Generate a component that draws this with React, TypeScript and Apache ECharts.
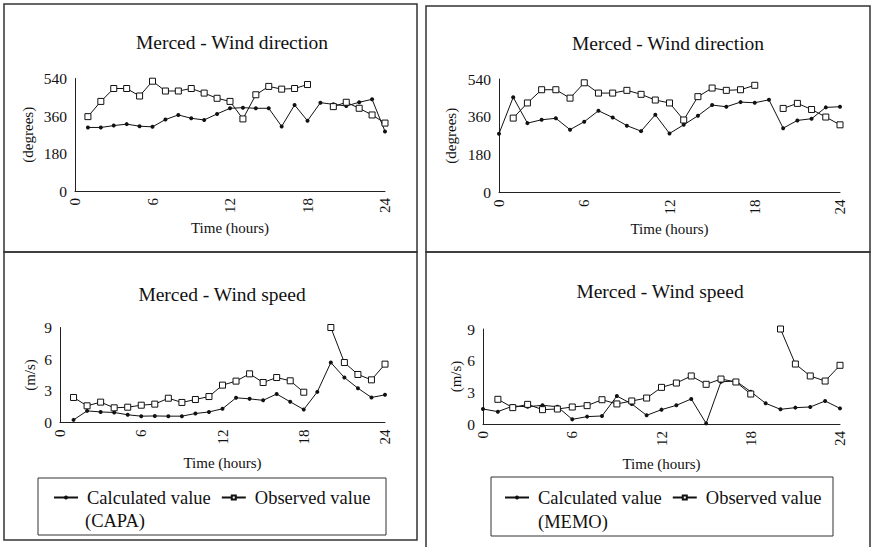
import React, { useEffect, useRef } from 'react';
import * as echarts from 'echarts';

const hours = [0, 1, 2, 3, 4, 5, 6, 7, 8, 9, 10, 11, 12, 13, 14, 15, 16, 17, 18, 19, 20, 21, 22, 23, 24];

// CAPA (left) - wind direction, degrees
const capaDirCalc = [null, 305, 305, 314, 321, 311, 308, 343, 365, 349, 341, 370, 397, 400, 397, 397, 310, 413, 337, 424, 416, 408, 426, 440, 286];
const capaDirObs = [null, 357, 430, 492, 492, 456, 527, 480, 480, 492, 470, 445, 430, 346, 462, 502, 489, 492, 511, null, 405, 426, 397, 365, 326];
// MEMO (right) - wind direction, degrees
const memoDirCalc = [280, 453, 330, 346, 353, 299, 337, 389, 357, 318, 292, 370, 281, 322, 365, 416, 408, 430, 427, 441, 306, 343, 351, 405, 408];
const memoDirObs = [null, 354, 426, 489, 489, 449, 522, 473, 473, 486, 467, 440, 426, 345, 456, 497, 486, 489, 510, null, 400, 424, 395, 359, 322];
// CAPA (left) - wind speed, m/s
const capaSpdCalc = [null, 0.25, 1.1, 1.0, 0.95, 0.73, 0.6, 0.62, 0.6, 0.6, 0.85, 1.0, 1.3, 2.34, 2.24, 2.1, 2.7, 1.96, 1.23, 2.9, 5.68, 4.26, 3.25, 2.37, 2.62];
const capaSpdObs = [null, 2.37, 1.58, 1.93, 1.39, 1.45, 1.64, 1.74, 2.3, 1.9, 2.18, 2.46, 3.54, 3.92, 4.61, 3.79, 4.26, 3.95, 2.87, null, 9.0, 5.68, 4.55, 4.04, 5.53];
// MEMO (right) - wind speed, m/s
const memoSpdCalc = [1.42, 1.17, 1.7, 1.64, 1.77, 1.64, 0.44, 0.7, 0.76, 2.65, 1.9, 0.82, 1.36, 1.77, 2.37, 0.06, 4.0, 4.07, 3.06, 1.96, 1.39, 1.55, 1.61, 2.18, 1.48];
const memoSpdObs = [null, 2.34, 1.55, 1.86, 1.36, 1.42, 1.61, 1.74, 2.3, 1.9, 2.18, 2.46, 3.47, 3.88, 4.55, 3.76, 4.26, 3.98, 2.84, null, 9.0, 5.68, 4.55, 4.07, 5.56];

const titleDir = 'Merced - Wind direction';
const titleSpd = 'Merced - Wind speed';
const xName = 'Time (hours)';
const dirName = '(degrees)';
const spdName = '(m/s)';
const calcName = 'Calculated value';
const obsName = 'Observed value';
const leftModel = '(CAPA)';
const rightModel = '(MEMO)';

const FONT = 'Liberation Serif';
const INK = '#111';

function pairs(arr: (number | null)[]) {
  return hours.map((h, i) => [h, arr[i] == null ? '-' : arr[i]]);
}

function xAxisFor(gridIndex: number, nameGap: number) {
  return {
    type: 'value',
    gridIndex,
    min: 0,
    max: 24,
    interval: 6,
    name: xName,
    nameLocation: 'middle',
    nameGap,
    nameTextStyle: { fontFamily: FONT, fontSize: 15, color: INK },
    axisLine: { lineStyle: { color: '#222', width: 1 } },
    axisTick: { show: false },
    axisLabel: { rotate: 90, fontFamily: FONT, fontSize: 15, color: INK, margin: 7 },
    splitLine: { show: false },
  };
}

function yAxisFor(gridIndex: number, max: number, interval: number, name: string, nameGap: number) {
  return {
    type: 'value',
    gridIndex,
    min: 0,
    max,
    interval,
    name,
    nameLocation: 'middle',
    nameGap,
    nameRotate: 90,
    nameTextStyle: { fontFamily: FONT, fontSize: 15, color: INK },
    axisLine: { show: true, lineStyle: { color: '#222', width: 1 } },
    axisTick: { show: false },
    axisLabel: { fontFamily: FONT, fontSize: 15.5, color: INK, margin: 8 },
    splitLine: { show: false },
  };
}

function calcSeries(idx: number, data: (number | null)[]) {
  return {
    type: 'line',
    name: calcName,
    xAxisIndex: idx,
    yAxisIndex: idx,
    data: pairs(data),
    symbol: 'circle',
    symbolSize: 4,
    showSymbol: true,
    connectNulls: false,
    clip: false,
    lineStyle: { color: INK, width: 1 },
    itemStyle: { color: INK, borderColor: INK, borderWidth: 0 },
  };
}

function obsSeries(idx: number, data: (number | null)[]) {
  return {
    type: 'line',
    name: obsName,
    xAxisIndex: idx,
    yAxisIndex: idx,
    data: pairs(data),
    symbol: 'rect',
    symbolSize: 6,
    showSymbol: true,
    connectNulls: false,
    clip: false,
    lineStyle: { color: INK, width: 1 },
    itemStyle: { color: '#fff', borderColor: INK, borderWidth: 1 },
  };
}

function legendAt(left: number, top: number) {
  return {
    left,
    top,
    orient: 'horizontal',
    itemWidth: 24,
    itemHeight: 5,
    itemGap: 10,
    padding: 0,
    data: [calcName, obsName],
    textStyle: { fontFamily: FONT, fontSize: 18.5, color: INK, padding: [0, 0, 0, 4] },
  };
}

export default function App() {
  const ref = useRef<HTMLDivElement>(null);

  useEffect(() => {
    if (!ref.current) return;
    const chart = echarts.init(ref.current, null, { renderer: 'svg' });
    const border = { stroke: '#333', lineWidth: 1.5, fill: 'none' };
    const titleStyle = { fontFamily: FONT, fontSize: 19.5, fontWeight: 'normal', color: INK };
    const option = {
      animation: false,
      backgroundColor: '#fff',
      textStyle: { fontFamily: FONT },
      title: [
        { text: titleDir, left: 232, top: 32, textAlign: 'center', padding: 0, textStyle: titleStyle },
        { text: titleDir, left: 668, top: 33, textAlign: 'center', padding: 0, textStyle: titleStyle },
        { text: titleSpd, left: 222, top: 284, textAlign: 'center', padding: 0, textStyle: titleStyle },
        { text: titleSpd, left: 660, top: 281, textAlign: 'center', padding: 0, textStyle: titleStyle },
      ],
      grid: [
        { left: 75, top: 78.5, width: 310, height: 112.5 },
        { left: 499, top: 79, width: 341, height: 113.5 },
        { left: 60, top: 327.5, width: 325, height: 95 },
        { left: 483, top: 329, width: 357, height: 95 },
      ],
      xAxis: [xAxisFor(0, 29), xAxisFor(1, 29), xAxisFor(2, 33), xAxisFor(3, 32)],
      yAxis: [
        yAxisFor(0, 540, 180, dirName, 40),
        yAxisFor(1, 540, 180, dirName, 41),
        yAxisFor(2, 9, 3, spdName, 23),
        yAxisFor(3, 9, 3, spdName, 16),
      ],
      legend: [legendAt(53, 488), legendAt(504, 488)],
      series: [
        calcSeries(0, capaDirCalc),
        obsSeries(0, capaDirObs),
        calcSeries(1, memoDirCalc),
        obsSeries(1, memoDirObs),
        calcSeries(2, capaSpdCalc),
        obsSeries(2, capaSpdObs),
        calcSeries(3, memoSpdCalc),
        obsSeries(3, memoSpdObs),
      ],
      graphic: [
        { type: 'rect', shape: { x: 4, y: 4, width: 413, height: 248 }, style: border, silent: true },
        { type: 'rect', shape: { x: 4, y: 252, width: 413, height: 288 }, style: border, silent: true },
        { type: 'rect', shape: { x: 426, y: 6, width: 444, height: 246 }, style: border, silent: true },
        { type: 'rect', shape: { x: 426, y: 252, width: 444, height: 300 }, style: border, silent: true },
        { type: 'rect', shape: { x: 38, y: 478, width: 348, height: 57 }, style: { stroke: '#333', lineWidth: 1, fill: 'none' }, silent: true },
        { type: 'rect', shape: { x: 491, y: 477, width: 342, height: 59 }, style: { stroke: '#333', lineWidth: 1, fill: 'none' }, silent: true },
        { type: 'text', x: 85, y: 521, style: { text: leftModel, fontFamily: FONT, fontSize: 18.5, fill: INK, verticalAlign: 'middle' }, silent: true },
        { type: 'text', x: 538, y: 522, style: { text: rightModel, fontFamily: FONT, fontSize: 18.5, fill: INK, verticalAlign: 'middle' }, silent: true },
      ],
    };
    chart.setOption(option as any);
    return () => chart.dispose();
  }, []);

  return (
    <div
      ref={ref}
      style={{ position: 'fixed', left: 0, top: 0, width: 873, height: 547, background: '#fff' }}
    />
  );
}
